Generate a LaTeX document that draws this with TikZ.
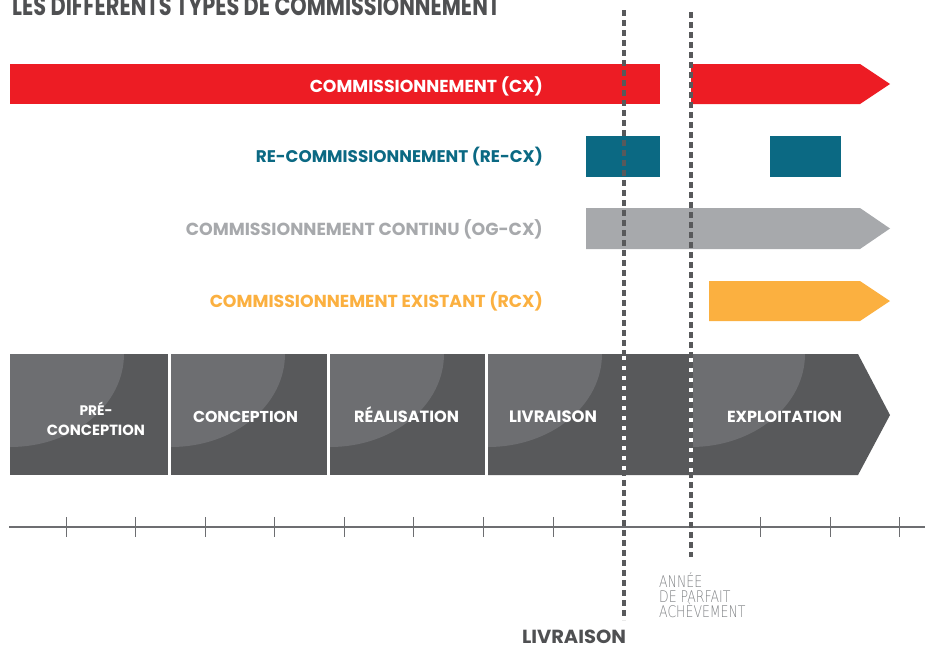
\documentclass[tikz,border=0pt]{standalone}
\usepackage{fontspec}
\usepackage{graphicx}
\setmainfont{Poppins}
\newfontfamily\thinfont{DejaVu Sans ExtraLight}
\definecolor{cxred}{HTML}{ED1C24}
\definecolor{cxteal}{HTML}{0B6983}
\definecolor{cxgray}{HTML}{A7A9AC}
\definecolor{cxorange}{HTML}{FBB040}
\definecolor{phdark}{HTML}{58595B}
\definecolor{phlight}{HTML}{6D6E71}
\definecolor{titlegray}{HTML}{4F5052}
\definecolor{thingray}{HTML}{808285}
\newcommand{\fitw}[2]{\resizebox{#1}{!}{\bfseries #2}}
\tikzset{
  rowlabel/.style={anchor=base east, inner sep=0pt},
  phlabel/.style={anchor=base, inner sep=0pt, text=white},
  dashline/.style={draw=phdark, line width=3.2pt, dash pattern=on 6pt off 4pt},
  tickline/.style={draw=phlight, line width=1pt},
  thintext/.style={anchor=base west, inner sep=0pt, text=thingray, font=\thinfont\fontsize{16}{16}\selectfont}
}
\begin{document}
\begin{tikzpicture}[x=1pt,y=-1pt]
\useasboundingbox (0,0) rectangle (931,649);
\clip (0,0) rectangle (931,649);

% title
\node[anchor=base west, inner sep=0pt, text=titlegray] (title) at (12,15)
  {\resizebox{488pt}{19pt}{\bfseries LES DIFFERENTS TYPES DE COMMISSIONNEMENT}};

% CX bar
\fill[cxred] (10,64) rectangle (660,104);
\fill[cxred] (691,64) -- (860,64) -- (890,84) -- (860,104) -- (691,104) -- cycle;
\node[rowlabel, text=white] (lcx) at (543,92) {\fitw{233pt}{COMMISSIONNEMENT (CX)}};

% RE-CX
\fill[cxteal] (586,136) rectangle (660,177);
\fill[cxteal] (770,136) rectangle (841,177);
\node[rowlabel, text=cxteal] (lrecx) at (543,162) {\fitw{287pt}{RE-COMMISSIONNEMENT (RE-CX)}};

% OG-CX
\fill[cxgray] (586,208) -- (860,208) -- (890,228.5) -- (860,249) -- (586,249) -- cycle;
\node[rowlabel, text=cxgray] (logcx) at (543,235) {\fitw{357pt}{COMMISSIONNEMENT CONTINU (OG-CX)}};

% RCX
\fill[cxorange] (709,281) -- (860,281) -- (890,301) -- (860,321) -- (709,321) -- cycle;
\node[rowlabel, text=cxorange] (lrcx) at (543,307) {\fitw{333pt}{COMMISSIONNEMENT EXISTANT (RCX)}};

% phase bar
\fill[phdark] (10,354) rectangle (168,475);
\fill[phdark] (171,354) rectangle (327,475);
\fill[phdark] (330,354) rectangle (485,475);
\fill[phdark] (488,354) -- (858,354) -- (890,415) -- (858,475) -- (488,475) -- cycle;
\foreach \xx in {10,171,330,488,691}{
  \fill[phlight] (\xx,354) -- ++(114,0) arc[start angle=0, end angle=90, x radius=114, y radius=93] -- cycle;
}
\node[phlabel] (pre1) at (96,415) {\fitw{33pt}{PRÉ-}};
\node[phlabel] (pre2) at (96,435) {\fitw{98pt}{CONCEPTION}};
\node[phlabel] (conc) at (245.5,422) {\fitw{105pt}{CONCEPTION}};
\node[phlabel] (real) at (406.5,422) {\fitw{105pt}{RÉALISATION}};
\node[phlabel] (livr) at (553,422) {\fitw{88pt}{LIVRAISON}};
\node[phlabel] (expl) at (784.5,422) {\fitw{115pt}{EXPLOITATION}};

% axis
\coordinate (axl) at (9,527);
\coordinate (axr) at (925,527);
\draw[phlight, line width=1.5pt] (axl) -- (axr);
\foreach \xx in {66,135,205,274,344,413,483,553,760,830,899}{
  \draw[tickline] (\xx,517) -- (\xx,537);
}

% dashed milestone lines
\coordinate (d1t) at (624,10);
\coordinate (d1b) at (624,620);
\coordinate (d2t) at (691,12);
\coordinate (d2b) at (691,557);
\draw[white, line width=3.5pt] (624,354) -- (624,475);
\draw[white, line width=3.5pt] (691,354) -- (691,475);
\draw[dashline] (d1t) -- (d1b);
\draw[dashline] (d2t) -- (d2b);

% bottom labels
\node[thintext] (an1) at (659,587) {\scalebox{0.78}[1]{ANNÉE}};
\node[thintext] (an2) at (659,602) {\scalebox{0.78}[1]{DE PARFAIT}};
\node[thintext] (an3) at (659,617) {\scalebox{0.78}[1]{ACHÈVEMENT}};
\node[anchor=base, inner sep=0pt, text=titlegray] (livb) at (574,643.5)
  {\resizebox{104pt}{13.5pt}{\bfseries LIVRAISON}};
\end{tikzpicture}
\end{document}
